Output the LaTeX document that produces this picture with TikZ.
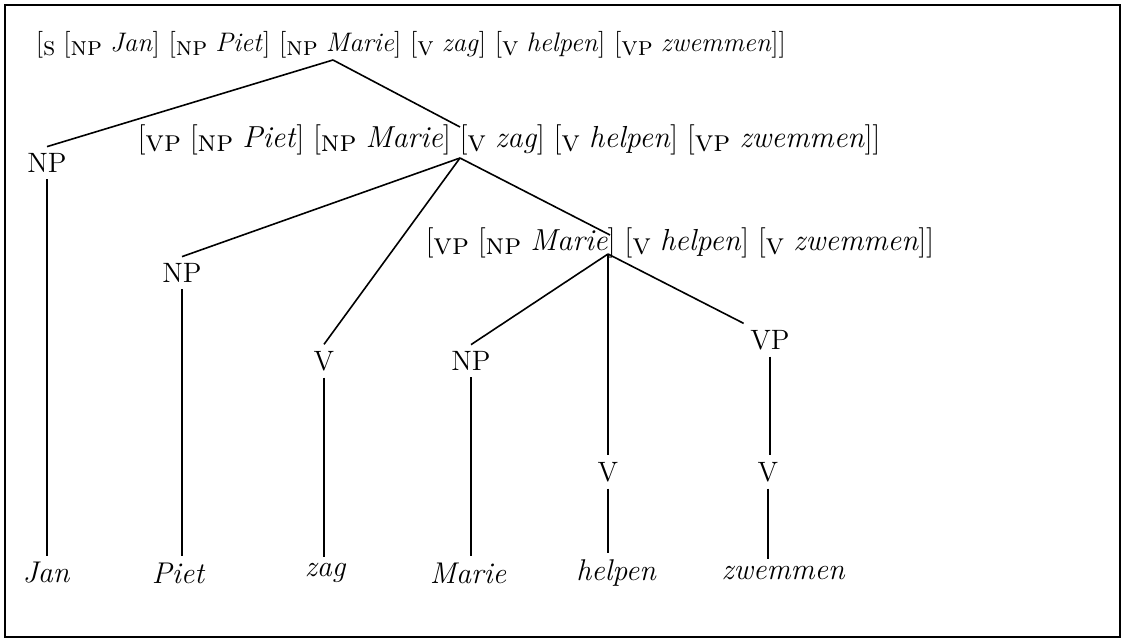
\documentclass[tikz,border=0pt]{standalone}
\usepackage{tikz}
\usetikzlibrary{positioning}

\newcommand{\cb}[1]{[\lower0.3ex\hbox{\textsc{#1}}\hspace{0.3em}}
\newcommand{\phr}[2]{\cb{#1}\textit{#2}]}

\begin{document}
\begin{tikzpicture}[x=0.5pt,y=-0.5pt,-,line width=0.8pt,
  every node/.style={font=\fontsize{14}{16}\selectfont},
  cat node/.style={inner sep=3pt},
  word node/.style={inner sep=3pt,font=\fontsize{15}{17}\selectfont\itshape},
  bracket node/.style={anchor=west,inner sep=0pt}]

  \useasboundingbox (0,0) rectangle (1123,641);
  \draw[line width=1pt] (5,5) rectangle (1120,637);

  % bracketed strings
  \node[bracket node,font=\fontsize{13.4}{16}\selectfont] (s) at (35,45)
    {\cb{s}\phr{np}{Jan} \phr{np}{Piet} \phr{np}{Marie} \phr{v}{zag} \phr{v}{helpen} \phr{vp}{zwemmen}]};
  \node[bracket node,font=\fontsize{15.2}{18}\selectfont] (vp1) at (137,140)
    {\cb{vp}\phr{np}{Piet} \phr{np}{Marie} \phr{v}{zag} \phr{v}{helpen} \phr{vp}{zwemmen}]};
  \node[bracket node,font=\fontsize{15.2}{18}\selectfont] (vp2) at (425,243)
    {\cb{vp}\phr{np}{Marie} \phr{v}{helpen} \phr{v}{zwemmen}]};

  \coordinate (a1) at (333,60);
  \coordinate (a2) at (460,158);
  \coordinate (a3) at (608,254);
  \coordinate (t2) at (460,127);
  \coordinate (t3) at (610,235);

  % categories
  \node[cat node] (np1) at (47,163) {NP};
  \node[cat node] (np2) at (182,273) {NP};
  \node[cat node] (v1) at (324,361) {V};
  \node[cat node] (np3) at (471,361) {NP};
  \node[cat node] (vp3) at (770,340) {VP};
  \node[cat node] (v2) at (608,472) {V};
  \node[cat node] (v3) at (768,472) {V};

  % words
  \node[word node] (w1) at (46,573) {Jan};
  \node[word node] (w2) at (178,573) {Piet};
  \node[word node] (w3) at (325,573) {zag};
  \node[word node] (w4) at (468,573) {Marie};
  \node[word node] (w5) at (616,573) {helpen};
  \node[word node] (w6) at (783,573) {zwemmen};

  \path
    (a1) edge (np1.north)
    edge (t2)
    (a2) edge (np2.north)
    edge (v1.north)
    edge (t3)
    (a3) edge (np3.north)
    edge (v2.north)
    edge (vp3.north west)
    (np1.south) edge (np1.south |- w1.north)
    (np2.south) edge (np2.south |- w2.north)
    (v1.south) edge (v1.south |- w3.north)
    (np3.south) edge (np3.south |- w4.north)
    (vp3.south) edge (vp3.south |- v3.north)
    (v2.south) edge (v2.south |- w5.north)
    (v3.south) edge (v3.south |- w6.north);

\end{tikzpicture}
\end{document}
